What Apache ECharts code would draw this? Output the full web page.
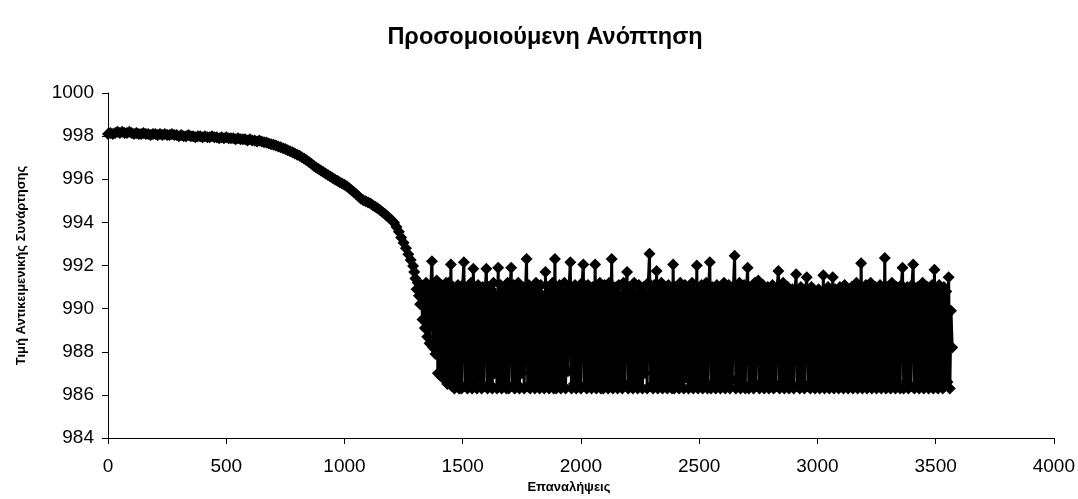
<!DOCTYPE html>
<html>
<head>
<meta charset="utf-8">
<script src="https://cdn.jsdelivr.net/npm/echarts@6/dist/echarts.min.js"></script>
<style>
  html, body { margin: 0; padding: 0; background: #fff; }
  #chart { width: 1078px; height: 499px; }
</style>
</head>
<body>
<div id="chart"></div>
<script>
// Simulated annealing run: objective value per iteration.
const titleText = 'Προσομοιούμενη Ανόπτηση';
const xAxisTitle = 'Επαναλήψεις';
const yAxisTitle = 'Τιμή Αντικειμενικής Συνάρτησης';

// Cooling phase, sampled every 10 iterations from iteration 0.
const descentStart = 0;
const descentStep = 10;
const descentValues = [
  998.1, 998.15, 998.1, 998.15, 998.2, 998.15, 998.2, 998.15, 998.15, 998.2,
  998.15, 998.1, 998.15, 998.1, 998.1, 998.15, 998.1, 998.1, 998.05, 998.1,
  998.1, 998.05, 998.1, 998.05, 998.1, 998.05, 998.05, 998.1, 998.05, 998.05,
  998.0, 998.05, 998.0, 998.0, 998.05, 998.0, 998.0, 997.95, 998.0, 998.0,
  997.95, 998.0, 997.95, 997.95, 998.0, 997.95, 997.95, 997.9, 997.95, 997.9,
  997.95, 997.9, 997.9, 997.9, 997.85, 997.9, 997.85, 997.85, 997.85, 997.8,
  997.85, 997.8, 997.8, 997.75, 997.8, 997.75, 997.72, 997.7, 997.66, 997.62,
  997.6, 997.56, 997.52, 997.48, 997.44, 997.4, 997.35, 997.3, 997.25, 997.2,
  997.14, 997.09, 997.02, 996.95, 996.88, 996.8, 996.72, 996.63, 996.55, 996.48,
  996.41, 996.34, 996.27, 996.2, 996.13, 996.06, 995.99, 995.93, 995.86, 995.8,
  995.74, 995.67, 995.58, 995.49, 995.4, 995.31, 995.2, 995.1, 995.03, 994.98,
  994.92, 994.87, 994.8, 994.73, 994.65, 994.57, 994.48, 994.4, 994.3, 994.2,
  994.1, 993.98, 993.78, 993.56, 993.3, 993.05, 992.8, 992.52, 992.25, 991.98
];

// Fluctuating phase, sampled every 5 iterations from iteration 1295.
const bandStart = 1295;
const bandStep = 5;
const bandValues = [
  991.7, 991.4, 990.9, 991.2, 990.6, 990.2, 991.1, 989.5, 991.0, 989.1, 991.2, 988.7, 990.9, 988.4, 991.1, 992.2, 988.2, 991.0, 987.9, 991.3,
  987.0, 991.0, 986.9, 991.1, 986.8, 990.8, 986.7, 991.2, 986.5, 991.2, 986.6, 992.05, 986.4, 991.0, 986.3, 990.7, 986.4, 991.1, 986.3, 990.9,
  986.3, 991.1, 992.15, 986.4, 990.8, 986.3, 991.0, 986.6, 991.2, 986.3, 991.85, 986.5, 990.9, 986.3, 991.1, 986.8, 990.6, 986.3, 991.0, 986.4,
  990.7, 991.85, 986.3, 991.0, 986.5, 990.9, 986.3, 991.2, 987.0, 990.6, 986.3, 991.9, 986.4, 991.1, 986.3, 990.8, 986.6, 991.0, 986.3, 991.2,
  986.3, 990.9, 991.9, 986.4, 991.1, 986.3, 990.7, 986.5, 991.2, 986.3, 990.9, 987.0, 991.0, 986.3, 990.6, 992.3, 986.4, 991.1, 986.3, 990.8,
  986.5, 991.0, 986.3, 991.2, 986.4, 990.8, 986.3, 991.1, 986.7, 990.5, 986.3, 991.7, 986.4, 991.0, 986.3, 990.9, 986.6, 991.2, 986.3, 992.3,
  986.3, 990.9, 986.5, 991.1, 986.3, 990.7, 986.4, 991.2, 986.3, 990.8, 987.1, 991.0, 992.15, 986.3, 990.6, 986.5, 991.1, 986.3, 990.9, 986.4,
  991.0, 986.3, 991.2, 992.05, 986.4, 990.8, 986.3, 991.1, 986.6, 990.7, 986.3, 991.0, 986.5, 992.05, 986.3, 990.9, 986.4, 991.2, 986.3, 990.6,
  986.3, 991.1, 986.5, 990.9, 986.3, 991.2, 986.4, 992.3, 986.3, 990.8, 986.7, 991.0, 986.3, 991.1, 986.4, 990.6, 986.3, 991.2, 986.5, 990.9,
  991.7, 986.3, 991.0, 986.4, 990.8, 986.3, 991.2, 986.6, 990.7, 986.3, 991.1, 986.4, 990.9, 986.3, 991.0, 987.0, 990.6, 986.3, 991.2, 992.55,
  986.4, 990.9, 986.3, 991.1, 986.5, 991.75, 986.3, 990.8, 986.4, 991.2, 986.3, 990.6, 986.6, 991.0, 986.3, 991.1, 986.4, 990.9, 986.3, 992.05,
  986.3, 991.0, 986.5, 990.7, 986.3, 991.2, 986.4, 990.9, 986.3, 991.1, 986.8, 990.6, 986.3, 991.0, 986.4, 991.2, 986.3, 990.8, 986.5, 992.0,
  986.3, 990.9, 986.4, 991.1, 986.3, 990.7, 986.6, 991.2, 986.3, 990.9, 992.15, 986.3, 991.0, 986.5, 990.8, 986.3, 991.1, 986.4, 990.6, 986.3,
  991.0, 986.4, 991.2, 986.3, 990.8, 986.5, 991.1, 986.3, 990.9, 986.7, 991.0, 992.45, 986.3, 990.7, 986.4, 991.2, 986.3, 990.9, 986.5, 991.1,
  986.3, 990.8, 991.9, 986.3, 991.0, 986.5, 990.7, 986.3, 991.2, 986.4, 990.9, 991.3, 986.3, 990.6, 986.6, 991.1, 986.3, 990.8, 986.4, 991.0,
  986.3, 990.9, 986.5, 991.1, 986.3, 990.7, 986.4, 991.0, 991.75, 986.3, 990.8, 986.6, 991.2, 986.3, 990.9, 986.4, 991.0, 986.3, 990.6, 986.5,
  990.9, 986.3, 990.7, 991.6, 986.4, 990.8, 986.3, 991.0, 986.6, 990.5, 986.3, 990.9, 991.45, 986.4, 990.7, 986.3, 991.0, 986.5, 990.8, 986.3,
  990.6, 986.4, 990.9, 986.3, 990.7, 986.5, 991.55, 986.3, 990.8, 986.4, 991.0, 986.3, 990.6, 986.7, 991.45, 986.3, 990.9, 986.4, 990.7, 986.3,
  991.0, 986.5, 990.8, 986.3, 991.1, 986.4, 990.7, 986.3, 990.9, 986.6, 991.0, 986.3, 990.8, 986.4, 991.2, 986.3, 990.9, 986.5, 992.1, 986.3,
  990.9, 986.4, 991.1, 986.3, 990.7, 986.5, 991.2, 986.3, 990.8, 986.6, 991.0, 986.3, 990.6, 986.4, 991.1, 986.3, 990.9, 986.5, 992.35, 986.3,
  991.0, 986.4, 990.8, 986.3, 991.2, 986.5, 990.7, 986.3, 991.0, 986.4, 990.9, 986.3, 991.1, 991.9, 986.3, 990.8, 986.6, 991.0, 986.3, 990.9,
  986.4, 991.1, 992.05, 986.3, 990.8, 986.5, 991.0, 986.3, 990.7, 986.4, 991.2, 986.3, 990.9, 986.6, 991.0, 986.3, 990.8, 986.4, 991.1, 986.3,
  991.8, 986.4, 990.9, 986.3, 991.1, 986.5, 990.7, 986.3, 991.0, 986.4, 990.8, 986.6, 991.45, 986.3, 989.9, 988.2
];

// Axis ranges and tick spacing.
const xMin = 0, xMax = 4000, xInterval = 500;
const yMin = 984, yMax = 1000, yInterval = 2;

const points = descentValues.map((v, i) => [descentStart + i * descentStep, v])
  .concat(bandValues.map((v, i) => [bandStart + i * bandStep, v]));

const FONT = '"Liberation Sans", Arial, sans-serif';
const plainNumber = v => String(v);
const chart = echarts.init(document.getElementById('chart'), null, { renderer: 'canvas' });

chart.setOption({
  animation: false,
  backgroundColor: '#ffffff',
  graphic: [{
    type: 'text',
    x: 545,
    y: 38,
    style: {
      text: titleText,
      fill: '#000',
      font: 'bold 23.5px ' + FONT,
      textAlign: 'center',
      textVerticalAlign: 'middle'
    }
  }],
  grid: { left: 108, right: 24, top: 93, bottom: 56, containLabel: false },
  xAxis: {
    type: 'value',
    min: xMin, max: xMax, interval: xInterval,
    name: xAxisTitle,
    nameLocation: 'middle',
    nameGap: 43,
    nameTextStyle: { fontFamily: FONT, fontWeight: 'bold', fontSize: 13, color: '#000', padding: [0, 24, 0, 0] },
    axisLine: { show: true, lineStyle: { color: '#000', width: 1 } },
    axisTick: { show: true, length: 6, lineStyle: { color: '#000' } },
    axisLabel: { fontFamily: FONT, fontSize: 19, color: '#000', margin: 19, formatter: plainNumber },
    splitLine: { show: false }
  },
  yAxis: {
    type: 'value',
    min: yMin, max: yMax, interval: yInterval,
    name: yAxisTitle,
    nameLocation: 'middle',
    nameRotate: 90,
    nameGap: 80,
    nameTextStyle: { fontFamily: FONT, fontWeight: 'bold', fontSize: 13, color: '#000' },
    axisLine: { show: true, lineStyle: { color: '#000', width: 1 } },
    axisTick: { show: true, length: 6, lineStyle: { color: '#000' } },
    axisLabel: { fontFamily: FONT, fontSize: 19, color: '#000', margin: 14, formatter: plainNumber },
    splitLine: { show: false }
  },
  series: [{
    type: 'line',
    data: points,
    symbol: 'diamond',
    symbolSize: 12,
    showAllSymbol: true,
    sampling: null,
    lineStyle: { color: '#000', width: 3 },
    itemStyle: { color: '#000', borderWidth: 0 },
    emphasis: { disabled: true },
    silent: true,
    z: 3
  }]
});
</script>
</body>
</html>
